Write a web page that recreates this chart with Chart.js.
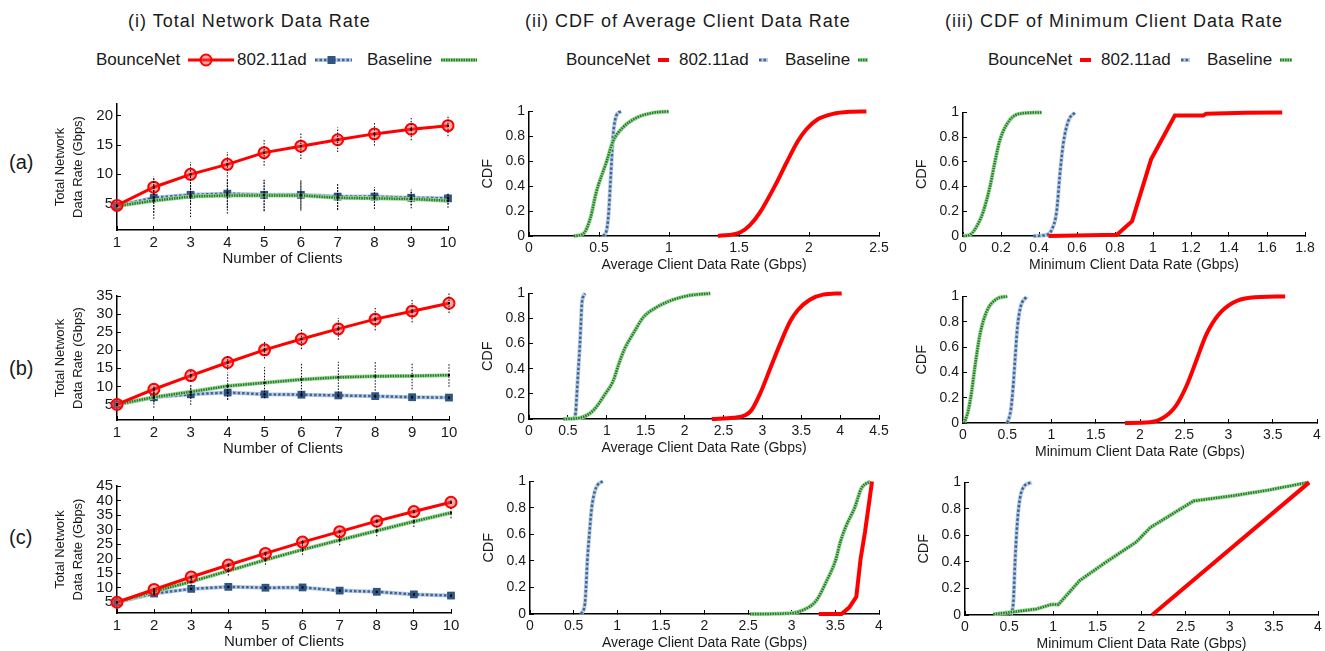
<!DOCTYPE html>
<html>
<head>
<meta charset="utf-8">
<script src="https://cdn.jsdelivr.net/npm/chart.js@4.4.0/dist/chart.umd.min.js"></script>
<style>
    body { margin: 0; background: #fff; font-family: "Liberation Sans", Arial, sans-serif; }
    #page { position: relative; width: 1325px; height: 651px; overflow: hidden; background: #fff; }
    .t { position: absolute; white-space: nowrap; color: #1a1a1a; }
    .title { font-size: 18px; letter-spacing: 1px; line-height: 24px; top: 9px; }
    .leg { font-size: 17px; line-height: 20px; top: 50px; }
    .row { font-size: 20px; line-height: 24px; left: 9px; }
    svg, canvas { position: absolute; }
</style>
</head>
<body>
<div id="page">
    <div class="t title" style="left:128px">(i) Total Network Data Rate</div>
    <div class="t title" style="left:525px">(ii) CDF of Average Client Data Rate</div>
    <div class="t title" style="left:945px">(iii) CDF of Minimum Client Data Rate</div>

    <div class="t row" style="top:150px">(a)</div>
    <div class="t row" style="top:356px">(b)</div>
    <div class="t row" style="top:525px">(c)</div>

    <!-- legend, column i -->
    <div class="t leg" style="left:96px">BounceNet</div>
    <svg style="left:188px;top:50px" width="48" height="20">
        <line x1="0" y1="10" x2="46" y2="10" stroke="#ff0000" stroke-width="3"/>
        <circle cx="18" cy="10" r="5.5" fill="rgba(255,60,60,0.45)" stroke="#ff0000" stroke-width="2"/>
    </svg>
    <div class="t leg" style="left:237px">802.11ad</div>
    <svg style="left:315px;top:50px" width="38" height="20">
        <line x1="0" y1="10" x2="37" y2="10" stroke="#b9cbe2" stroke-width="4"/>
        <line x1="0" y1="10" x2="37" y2="10" stroke="#3d6595" stroke-width="2.5" stroke-dasharray="2.5 2"/>
        <rect x="12.5" y="6" width="8" height="8" fill="#2f5582"/>
    </svg>
    <div class="t leg" style="left:367px">Baseline</div>
    <svg style="left:441px;top:50px" width="37" height="20">
        <line x1="0" y1="10" x2="36" y2="10" stroke="#9fd49f" stroke-width="4"/>
        <line x1="0" y1="10" x2="36" y2="10" stroke="#1d7f1d" stroke-width="2.5" stroke-dasharray="1.5 1"/>
    </svg>

    <!-- legend, column ii -->
    <div class="t leg" style="left:566px">BounceNet</div>
    <svg style="left:658px;top:50px" width="12" height="20">
        <line x1="0" y1="10" x2="11" y2="10" stroke="#ff0000" stroke-width="4"/>
    </svg>
    <div class="t leg" style="left:679px">802.11ad</div>
    <svg style="left:759px;top:50px" width="10" height="20">
        <line x1="0" y1="10" x2="9" y2="10" stroke="#b9cbe2" stroke-width="4"/>
        <line x1="0" y1="10" x2="9" y2="10" stroke="#3d6595" stroke-width="2.5" stroke-dasharray="2.5 2"/>
    </svg>
    <div class="t leg" style="left:785px">Baseline</div>
    <svg style="left:858px;top:50px" width="11" height="20">
        <line x1="0" y1="10" x2="10" y2="10" stroke="#9fd49f" stroke-width="4"/>
        <line x1="0" y1="10" x2="10" y2="10" stroke="#1d7f1d" stroke-width="2.5" stroke-dasharray="1.5 1"/>
    </svg>

    <!-- legend, column iii -->
    <div class="t leg" style="left:988px">BounceNet</div>
    <svg style="left:1080px;top:50px" width="12" height="20">
        <line x1="0" y1="10" x2="11" y2="10" stroke="#ff0000" stroke-width="4"/>
    </svg>
    <div class="t leg" style="left:1101px">802.11ad</div>
    <svg style="left:1181px;top:50px" width="10" height="20">
        <line x1="0" y1="10" x2="9" y2="10" stroke="#b9cbe2" stroke-width="4"/>
        <line x1="0" y1="10" x2="9" y2="10" stroke="#3d6595" stroke-width="2.5" stroke-dasharray="2.5 2"/>
    </svg>
    <div class="t leg" style="left:1207px">Baseline</div>
    <svg style="left:1280px;top:50px" width="13" height="20">
        <line x1="0" y1="10" x2="12" y2="10" stroke="#9fd49f" stroke-width="4"/>
        <line x1="0" y1="10" x2="12" y2="10" stroke="#1d7f1d" stroke-width="2.5" stroke-dasharray="1.5 1"/>
    </svg>
</div>

<script>
// ---- column (i): total network data rate vs. number of clients ----
const clients = [1, 2, 3, 4, 5, 6, 7, 8, 9, 10];

const bounceA = [4.7, 7.8, 10.0, 11.7, 13.7, 14.8, 15.9, 16.9, 17.7, 18.3];
const bounceErrA = [0.2, 1.8, 2.1, 2.1, 2.2, 2.2, 2.1, 2.0, 1.9, 1.8];
const adA = [4.6, 6.0, 6.5, 6.7, 6.5, 6.5, 6.2, 6.2, 6.0, 5.9];
const adErrA = [0.2, 3.6, 1.6, 2.5, 2.8, 2.4, 2.2, 1.6, 1.3, 1.0];
const baseA = [4.6, 5.5, 6.2, 6.4, 6.4, 6.4, 6.0, 5.9, 5.8, 5.5];
const baseErrA = [0.2, 2.0, 3.5, 3.1, 2.6, 2.6, 2.1, 1.8, 1.6, 1.2];

const bounceB = [5.0, 9.2, 13.0, 16.6, 20.1, 23.1, 25.9, 28.6, 30.8, 33.0];
const bounceErrB = [0.2, 1.3, 1.6, 2.0, 2.4, 2.8, 3.0, 3.1, 3.1, 2.7];
const adB = [5.0, 7.0, 7.8, 8.3, 7.8, 7.7, 7.5, 7.3, 7.0, 6.9];
const adErrB = [0.2, 2.9, 2.9, 2.0, 1.0, 0.6, 0.5, 0.5, 0.4, 0.4];
const baseB = [5.0, 7.0, 8.5, 10.1, 11.0, 11.9, 12.5, 12.8, 12.9, 13.1];
const baseErrB = [0.2, 1.5, 1.8, 3.8, 4.3, 4.4, 4.3, 4.0, 3.7, 3.2];

const bounceC = [5.0, 9.4, 13.7, 17.8, 21.8, 25.7, 29.3, 32.9, 36.2, 39.4];
const bounceErrC = [0.2, 0.5, 0.5, 0.6, 0.6, 0.6, 0.6, 0.6, 0.6, 0.6];
const adC = [5.0, 8.0, 9.6, 10.3, 10.0, 10.1, 9.0, 8.6, 7.7, 7.3];
const adErrC = [0.2, 0.4, 0.4, 0.4, 0.4, 0.4, 0.4, 0.4, 0.4, 0.4];
const baseC = [5.0, 8.7, 12.1, 15.8, 19.6, 23.1, 26.4, 29.6, 32.8, 35.8];
const baseErrC = [0.2, 1.4, 1.5, 1.6, 1.7, 1.8, 1.8, 1.9, 1.9, 1.9];

const rateTicksA = [5, 10, 15, 20];
const rateTicksB = [5, 10, 15, 20, 25, 30, 35];
const rateTicksC = [5, 10, 15, 20, 25, 30, 35, 40, 45];

// ---- column (ii): CDF of average client data rate ----
const avgBounceAx = [1.35, 1.51, 1.58, 1.65, 1.76, 1.84, 1.92, 1.98, 2.06, 2.17, 2.29, 2.41];
const avgBounceAy = [0, 0.03, 0.09, 0.19, 0.41, 0.59, 0.76, 0.855, 0.935, 0.98, 0.997, 1];
const avgAdAx = [0.53, 0.555, 0.57, 0.58, 0.59, 0.6, 0.615, 0.63, 0.66];
const avgAdAy = [0, 0.05, 0.2, 0.4, 0.6, 0.8, 0.93, 0.98, 1];
const avgBaseAx = [0.32, 0.39, 0.44, 0.48, 0.555, 0.6, 0.67, 0.77, 0.89, 1.0];
const avgBaseAy = [0, 0.02, 0.15, 0.35, 0.6, 0.76, 0.87, 0.95, 0.99, 1];

const avgBounceBx = [2.35, 2.63, 2.78, 2.86, 2.97, 3.1, 3.23, 3.36, 3.46, 3.61, 3.78, 4.02];
const avgBounceBy = [0, 0.01, 0.03, 0.07, 0.2, 0.4, 0.6, 0.78, 0.87, 0.95, 0.99, 1];
const avgAdBx = [0.57, 0.6, 0.615, 0.635, 0.655, 0.67, 0.68, 0.7, 0.72];
const avgAdBy = [0, 0.05, 0.2, 0.4, 0.6, 0.8, 0.92, 0.98, 1];
const avgBaseBx = [0.44, 0.66, 0.83, 0.98, 1.08, 1.15, 1.23, 1.34, 1.47, 1.6, 1.81, 2.03, 2.33];
const avgBaseBy = [0, 0.01, 0.07, 0.2, 0.3, 0.43, 0.56, 0.68, 0.81, 0.875, 0.94, 0.98, 1];

const avgBounceCx = [3.31, 3.57, 3.66, 3.74, 3.79, 3.84, 3.92];
const avgBounceCy = [0, 0, 0.05, 0.13, 0.42, 0.62, 1];
const avgAdCx = [0.585, 0.63, 0.642, 0.657, 0.68, 0.707, 0.745, 0.783, 0.833];
const avgAdCy = [0, 0.08, 0.2, 0.4, 0.6, 0.8, 0.93, 0.98, 1];
const avgBaseCx = [2.52, 2.98, 3.13, 3.28, 3.4, 3.5, 3.56, 3.62, 3.72, 3.8, 3.9];
const avgBaseCy = [0, 0.005, 0.03, 0.1, 0.25, 0.4, 0.55, 0.66, 0.8, 0.95, 1];

// ---- column (iii): CDF of minimum client data rate ----
const minBounceAx = [0.45, 0.81, 0.89, 0.99, 1.115, 1.265, 1.28, 1.49, 1.68];
const minBounceAy = [0, 0.01, 0.12, 0.62, 0.975, 0.975, 0.99, 0.998, 1];
const minAdAx = [0.37, 0.44, 0.467, 0.493, 0.51, 0.528, 0.554, 0.589];
const minAdAy = [0, 0.01, 0.05, 0.2, 0.5, 0.75, 0.93, 1];
const minBaseAx = [0.0, 0.037, 0.08, 0.107, 0.142, 0.168, 0.195, 0.247, 0.3, 0.414];
const minBaseAy = [0, 0.01, 0.1, 0.2, 0.4, 0.6, 0.78, 0.94, 0.99, 1];

const minBounceBx = [1.83, 2.11, 2.26, 2.41, 2.53, 2.64, 2.75, 2.88, 3.05, 3.24, 3.64];
const minBounceBy = [0, 0.005, 0.04, 0.14, 0.3, 0.5, 0.7, 0.85, 0.95, 0.99, 1];
const minAdBx = [0.5, 0.54, 0.568, 0.588, 0.614, 0.652, 0.72];
const minAdBy = [0, 0.1, 0.3, 0.5, 0.75, 0.92, 1];
const minBaseBx = [0.015, 0.06, 0.098, 0.136, 0.192, 0.267, 0.38, 0.5];
const minBaseBy = [0, 0.1, 0.25, 0.45, 0.7, 0.88, 0.98, 1];

const minBounceCx = [2.12, 3.9];
const minBounceCy = [0, 1];
const minAdCx = [0.518, 0.548, 0.567, 0.593, 0.623, 0.669, 0.756];
const minAdCy = [0, 0.1, 0.4, 0.7, 0.88, 0.97, 1];
const minBaseCx = [0.32, 0.51, 0.81, 0.98, 1.06, 1.3, 1.6, 1.94, 2.1, 2.59, 3.04, 3.42, 3.89];
const minBaseCy = [0.005, 0.02, 0.045, 0.08, 0.08, 0.26, 0.4, 0.55, 0.66, 0.86, 0.9, 0.94, 1];

const cdfTicks = [0, 0.2, 0.4, 0.6, 0.8, 1];
const avgTicksA = [0, 0.5, 1, 1.5, 2, 2.5];
const avgTicksB = [0, 0.5, 1, 1.5, 2, 2.5, 3, 3.5, 4, 4.5];
const avgTicksC = [0, 0.5, 1, 1.5, 2, 2.5, 3, 3.5, 4];
const minTicksA = [0, 0.2, 0.4, 0.6, 0.8, 1, 1.2, 1.4, 1.6, 1.8];
const minTicksB = [0, 0.5, 1, 1.5, 2, 2.5, 3, 3.5, 4];
const minTicksC = [0, 0.5, 1, 1.5, 2, 2.5, 3, 3.5, 4];

const FONT = '"Liberation Sans", Arial, sans-serif';
const RED = "#ff0000";
const BLUE_HALO = "#b9cbe2", BLUE = "#3d6595", BLUE_MARK = "#2f5582";
const GREEN_HALO = "#9fd49f", GREEN = "#1d7f1d";
Chart.defaults.font.family = FONT;
Chart.defaults.color = "#1a1a1a";

const page = document.getElementById("page");

// dotted vertical error bars, drawn through the chart's own y scale
const errorBars = {
    id: "errorBars",
    afterDatasetsDraw(chart) {
        const ctx = chart.ctx, ys = chart.scales.y;
        chart.data.datasets.forEach((ds, i) => {
            if (!ds.errs) return;
            const meta = chart.getDatasetMeta(i);
            ctx.save();
            ctx.strokeStyle = "#000";
            ctx.lineWidth = 1;
            ctx.setLineDash([1.5, 1.5]);
            meta.data.forEach((pt, j) => {
                const v = ds.data[j].y, e = ds.errs[j];
                const y1 = ys.getPixelForValue(v - e), y2 = ys.getPixelForValue(v + e);
                ctx.beginPath();
                ctx.moveTo(pt.x, y1);
                ctx.lineTo(pt.x, y2);
                ctx.stroke();
            });
            ctx.fillStyle = "#000";
            meta.data.forEach(pt => ctx.fillRect(pt.x - 1, pt.y - 1, 2, 2));
            ctx.restore();
        });
    }
};

const pts = (xs, ys) => xs.map((x, i) => ({ x, y: ys[i] }));
const fmt = v => String(+Number(v).toFixed(2));
const STRAIGHT = { cubicInterpolationMode: "default", tension: 0 };

function axis(min, max, tickVals, title, tickSize, titleFont) {
    return {
        type: "linear",
        min, max,
        afterBuildTicks: s => { s.ticks = tickVals.map(v => ({ value: v })); },
        grid: { display: true, drawOnChartArea: false, drawTicks: true, tickLength: -4, color: "#000", lineWidth: 1 },
        border: { display: true, color: "#000", width: 1.5 },
        ticks: { font: { size: tickSize }, padding: 8, maxRotation: 0, autoSkip: false, callback: fmt },
        title: { display: true, text: title, font: titleFont, padding: { top: 4, bottom: 4 } }
    };
}

function plot(rect, yW, xOpts, yOpts, datasets) {
    const padT = 12, padR = 18, xH = 42;
    const cv = document.createElement("canvas");
    cv.width = rect.R - rect.L + yW + padR;
    cv.height = rect.B - rect.T + padT + xH;
    cv.style.left = (rect.L - yW) + "px";
    cv.style.top = (rect.T - padT) + "px";
    page.appendChild(cv);
    xOpts.afterFit = s => { s.height = xH; };
    yOpts.afterFit = s => { s.width = yW; };
    new Chart(cv, {
        type: "line",
        data: { datasets },
        options: {
            responsive: false,
            animation: false,
            layout: { padding: { top: padT, right: padR, left: 0, bottom: 0 } },
            plugins: { legend: { display: false }, tooltip: { enabled: false } },
            scales: { x: xOpts, y: yOpts }
        },
        plugins: [errorBars]
    });
}

// series builders
function redLine(xs, ys, extra) {
    return Object.assign({ data: pts(xs, ys), borderColor: RED, borderWidth: 4, pointRadius: 0,
        clip: false, order: 0, cubicInterpolationMode: "monotone" }, extra);
}
function twoTone(xs, ys, halo, dark, dash, order, extra) {
    const base = { clip: false, pointRadius: 0, cubicInterpolationMode: "monotone" };
    return [
        Object.assign({}, base, { data: pts(xs, ys), borderColor: halo, borderWidth: 4, order: order + 1 }, extra && extra.halo),
        Object.assign({}, base, { data: pts(xs, ys), borderColor: dark, borderWidth: 2.5, borderDash: dash, order }, extra && extra.top)
    ];
}

// ---- column (i) charts ----
function ratePlot(rect, yMin, yMax, ticks, b, bErr, a, aErr, s, sErr) {
    const xo = axis(1, 10, clients, "Number of Clients", 15, { size: 15 });
    const yo = axis(yMin, yMax, ticks, ["Total Network", "Data Rate (Gbps)"], 15, { size: 13, lineHeight: 1.385 });
    plot(rect, 70, xo, yo, [
        redLine(clients, b, Object.assign({ borderWidth: 3, pointRadius: 5.5, pointBorderWidth: 2,
            pointBorderColor: RED, pointBackgroundColor: "rgba(255,60,60,0.45)", errs: bErr }, STRAIGHT)),
        ...twoTone(clients, a, BLUE_HALO, BLUE, [2.5, 2], 4, { halo: STRAIGHT, top: Object.assign({
            pointStyle: "rect", pointRadius: 5.5, pointBackgroundColor: BLUE_MARK, pointBorderColor: BLUE_MARK,
            pointBorderWidth: 0, errs: aErr }, STRAIGHT) }),
        ...twoTone(clients, s, GREEN_HALO, GREEN, [1.5, 1], 2, { halo: STRAIGHT, top: Object.assign({ errs: sErr }, STRAIGHT) })
    ]);
}

ratePlot({ L: 117, R: 448, T: 99, B: 230 }, 0.5, 22, rateTicksA, bounceA, bounceErrA, adA, adErrA, baseA, baseErrA);
ratePlot({ L: 117, R: 449, T: 291, B: 420 }, 0.7, 35, rateTicksB, bounceB, bounceErrB, adB, adErrB, baseB, baseErrB);
ratePlot({ L: 117, R: 451, T: 481, B: 613 }, 1.3, 45, rateTicksC, bounceC, bounceErrC, adC, adErrC, baseC, baseErrC);

// ---- columns (ii) and (iii) charts ----
function cdfPlot(rect, xMax, xTicks, xTitle, series, straightRed, straightGreen) {
    const xo = axis(0, xMax, xTicks, xTitle, 14, { size: 14 });
    const yo = axis(0, 1, cdfTicks, "CDF", 14, { size: 14.5 });
    const [bx, by, ax, ay, sx, sy] = series;
    const greenExtra = straightGreen ? { halo: STRAIGHT, top: STRAIGHT } : undefined;
    plot(rect, 54, xo, yo, [
        redLine(bx, by, straightRed ? STRAIGHT : {}),
        ...twoTone(ax, ay, BLUE_HALO, BLUE, [2.5, 2], 4),
        ...twoTone(sx, sy, GREEN_HALO, GREEN, [1.5, 1], 2, greenExtra)
    ]);
}

const avgTitle = "Average Client Data Rate (Gbps)";
const minTitle = "Minimum Client Data Rate (Gbps)";

cdfPlot({ L: 529, R: 879, T: 107, B: 236 }, 2.5, avgTicksA, avgTitle,
    [avgBounceAx, avgBounceAy, avgAdAx, avgAdAy, avgBaseAx, avgBaseAy], false, false);
cdfPlot({ L: 529, R: 879, T: 289, B: 419 }, 4.5, avgTicksB, avgTitle,
    [avgBounceBx, avgBounceBy, avgAdBx, avgAdBy, avgBaseBx, avgBaseBy], false, false);
cdfPlot({ L: 530, R: 879, T: 477, B: 614 }, 4, avgTicksC, avgTitle,
    [avgBounceCx, avgBounceCy, avgAdCx, avgAdCy, avgBaseCx, avgBaseCy], true, false);

cdfPlot({ L: 963, R: 1305, T: 108, B: 236 }, 1.8, minTicksA, minTitle,
    [minBounceAx, minBounceAy, minAdAx, minAdAy, minBaseAx, minBaseAy], true, false);
cdfPlot({ L: 963, R: 1317, T: 292, B: 423 }, 4, minTicksB, minTitle,
    [minBounceBx, minBounceBy, minAdBx, minAdBy, minBaseBx, minBaseBy], false, false);
cdfPlot({ L: 965, R: 1318, T: 478, B: 615 }, 4, minTicksC, minTitle,
    [minBounceCx, minBounceCy, minAdCx, minAdCy, minBaseCx, minBaseCy], true, true);
</script>
</body>
</html>
